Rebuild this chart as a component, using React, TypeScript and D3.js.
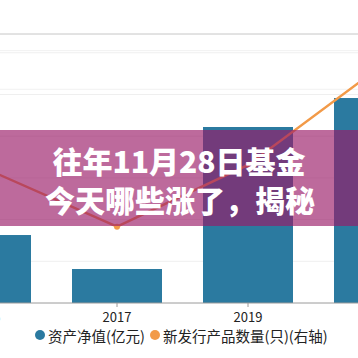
import React from "react";
import * as d3 from "d3";

const years = ["2015", "2017", "2019", "2021"];
const netAssets = [326, 163, 844, 983];
const newProducts = [197, 122, 202, 328];
const leftTicks = [200, 400, 600, 800, 1000, 1200];
const rightTicks = [300, 350];
const titleLines = ["往年11月28日基金", "今天哪些涨了，揭秘"];
const legendItems = ["资产净值(亿元)", "新发行产品数量(只)(右轴)"];

const W = 358;
const H = 358;
const BAR = "#2b7aa0";
const ORANGE = "#f29a48";

export default function App() {
  const x = d3
    .scaleBand<string>()
    .domain(years)
    .range([-79.5, 444.5])
    .paddingInner(0.313)
    .paddingOuter(0.1565);
  const yL = d3.scaleLinear().domain([0, 1290]).range([303, 34]);
  const yR = d3.scaleLinear().domain([23.2, 371.6]).range([303, 34]);
  const cx = (d: string) => (x(d) as number) + x.bandwidth() / 2;
  const line = d3
    .line<number>()
    .x((_, i) => cx(years[i]))
    .y((v) => yR(v));
  const base = yL(0);
  const font = "'Noto Sans CJK SC', 'Noto Sans', sans-serif";

  return (
    <div style={{ position: "fixed", left: 0, top: 0 }}>
      <svg width={W} height={H} style={{ display: "block", background: "#fff" }}>
        {/* gridlines */}
        <line x1={0} x2={W} y1={yL(1290)} y2={yL(1290)} stroke="#c6c6c6" strokeWidth={1} />
        {leftTicks.map((t) => (
          <line key={"l" + t} x1={0} x2={W} y1={yL(t)} y2={yL(t)} stroke="#efefef" strokeWidth={1} />
        ))}
        {rightTicks.map((t) => (
          <line key={"r" + t} x1={0} x2={W} y1={yR(t)} y2={yR(t)} stroke="#f1f1f1" strokeWidth={1} />
        ))}
        {/* bars */}
        {years.map((yr, i) => (
          <rect
            key={yr}
            x={x(yr)}
            y={yL(netAssets[i])}
            width={x.bandwidth()}
            height={base - yL(netAssets[i])}
            fill={BAR}
          />
        ))}
        {/* line */}
        <path d={line(newProducts) || ""} fill="none" stroke={ORANGE} strokeWidth={2.5} />
        {newProducts.map((v, i) => (
          <circle key={i} cx={cx(years[i])} cy={yR(v)} r={3} fill={ORANGE} />
        ))}
        {/* axis */}
        <line x1={0} x2={W} y1={base} y2={base} stroke="#9a9a9a" strokeWidth={1} />
        {years.map((yr) => (
          <g key={"t" + yr}>
            <line x1={cx(yr)} x2={cx(yr)} y1={base} y2={base + 4} stroke="#9a9a9a" />
            <text
              x={cx(yr)}
              y={base + 19}
              textAnchor="middle"
              fontFamily={font}
              fontSize={13}
              fill="#222"
            >
              {yr}
            </text>
          </g>
        ))}
        {/* overlay band */}
        <rect x={0} y={130} width={W} height={96} fill="#9a1a67" fillOpacity={0.65} />
        {titleLines.map((t, i) => (
          <text
            key={t}
            x={W / 2 + (i === 0 ? 0 : 1)}
            y={160 + i * 39}
            textAnchor="middle"
            dominantBaseline="central"
            fontFamily={font}
            fontWeight={900}
            fontSize={30}
            fill="#fff"
          >
            {t}
          </text>
        ))}
        {/* legend */}
        <circle cx={40} cy={335} r={5} fill={BAR} />
        <text x={48} y={335} dominantBaseline="central" fontFamily={font} fontSize={14.5} fill="#222">
          {legendItems[0]}
        </text>
        <circle cx={155} cy={335} r={5} fill={ORANGE} />
        <text x={163} y={335} dominantBaseline="central" fontFamily={font} fontSize={14.5} fill="#222">
          {legendItems[1]}
        </text>
      </svg>
    </div>
  );
}
